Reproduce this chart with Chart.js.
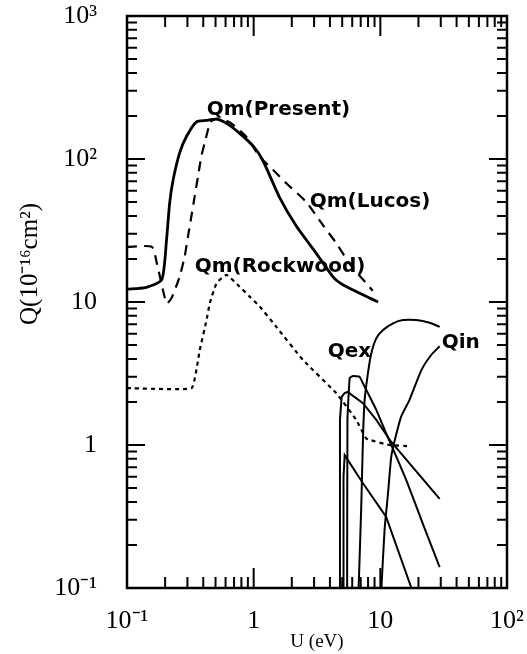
<!DOCTYPE html>
<html>
<head>
<meta charset="utf-8">
<script src="https://cdn.jsdelivr.net/npm/chart.js@4.4.1/dist/chart.umd.min.js"></script>
<style>
  html, body { margin: 0; padding: 0; background: #fff; }
  canvas { display: block; }
</style>
</head>
<body>
<canvas id="qChart" width="527" height="654"></canvas>
<script>
// axis ticks
var xTicks = [0.1, 1, 10, 100];
var xTickLabels = ['10⁻¹', '1', '10', '10²'];
var yTicks = [0.1, 1, 10, 100, 1000];
var yTickLabels = ['10⁻¹', '1', '10', '10²', '10³'];

// Qm (Present) - solid
var presentU = [0.1, 0.14, 0.188, 0.205, 0.217, 0.231, 0.26, 0.294, 0.353, 0.42, 0.508, 0.62, 0.775, 1.0, 1.18, 1.6, 2.17, 3.12, 4.23, 5.06, 6.5, 8, 9.6];
var presentQ = [12.3, 12.6, 14.3, 27, 49, 71, 110, 143, 182, 186, 190, 176, 151, 122, 98, 54, 34, 21.9, 15, 13.2, 11.8, 10.8, 10];

// Qm (Lucos) - dashed
var lucosU = [0.1, 0.157, 0.172, 0.205, 0.224, 0.26, 0.285, 0.303, 0.322, 0.342, 0.363, 0.386, 0.41, 0.436, 0.455, 0.52, 0.65, 0.875, 1.115, 1.42, 1.81, 2.6, 3.52, 4.5, 5.7, 8.7];
var lucosQ = [24.3, 24.3, 18.7, 9.8, 10.6, 15, 20.7, 28.7, 39.5, 54.5, 75, 104, 129, 160, 182, 192, 180, 143, 104, 84, 67.7, 50, 34.5, 25.7, 18.6, 12];

// Qm (Rockwood) - dotted
var rockwoodU = [0.1, 0.324, 0.375, 0.425, 0.45, 0.51, 0.61, 0.775, 0.93, 1.115, 1.51, 2.45, 4.5, 6.45, 7.76, 11.8, 17.5];
var rockwoodQ = [2.5, 2.5, 4.6, 7.5, 9.8, 13.6, 15.5, 12.8, 10.9, 9.3, 6.7, 3.93, 2.3, 1.5, 1.11, 1.0, 0.98];

// Qex curves
var qex1U = [4.77, 4.8, 4.95, 5.23, 5.52, 7.29, 9.29, 12.2, 29.4];
var qex1Q = [0.1, 1.5, 2.17, 2.31, 2.35, 1.96, 1.5, 1.05, 0.42];
var qex2U = [5.47, 5.5, 5.73, 6.08, 6.86, 7.29, 9.29, 11.1, 12.2, 16.0, 21.7, 29.4];
var qex2Q = [0.1, 1.5, 2.94, 3.04, 3.0, 2.7, 1.76, 1.21, 1.0, 0.57, 0.28, 0.14];
var qex3U = [5.09, 5.12, 5.23, 7.29, 11.1, 17.6];
var qex3Q = [0.1, 0.6, 0.85, 0.54, 0.315, 0.1];

// Qin curves
var qinU = [10.2, 10.8, 11.5, 12.2, 13.0, 14.6, 17.0, 21.1, 25.2, 29.4];
var qinQ = [0.1, 0.255, 0.46, 0.83, 1.08, 1.58, 2.07, 3.34, 4.26, 4.9];
var archU = [6.74, 7.08, 7.3, 7.52, 7.98, 8.49, 9.29, 10.5, 12.6, 15.1, 19.2, 24.5, 29.4];
var archQ = [0.1, 0.39, 1.14, 2.07, 3.17, 4.38, 5.57, 6.37, 7.1, 7.48, 7.48, 7.16, 6.7];

// curve labels (data coords of the left edge of the text)
var noteText = ['Qm(Present)', 'Qm(Lucos)', 'Qm(Rockwood)', 'Qex', 'Qin'];
var noteU = [0.426, 2.77, 0.342, 3.84, 30.5];
var noteQ = [220, 50, 17.6, 4.47, 5.16];

function pts(us, qs) {
  return us.map(function (u, i) { return { x: u, y: qs[i] }; });
}

function line(us, qs, width, dash, tension) {
  return {
    data: pts(us, qs),
    borderColor: '#000',
    borderWidth: width,
    borderDash: dash,
    pointRadius: 0,
    fill: false,
    tension: tension
  };
}

// frame, inward tick marks, y title and curve labels
var decorPlugin = {
  id: 'decor',
  afterDatasetsDraw: function (chart) {
    var ctx = chart.ctx;
    var a = chart.chartArea;
    var xs = chart.scales.x, ys = chart.scales.y;
    ctx.save();
    ctx.strokeStyle = '#000';
    ctx.lineWidth = 2.5;
    ctx.strokeRect(a.left, a.top, a.right - a.left, a.bottom - a.top);
    ctx.lineWidth = 2;
    ctx.beginPath();
    var d, m, v, p, len;
    for (d = -1; d <= 2; d++) {
      for (m = 1; m <= 9; m++) {
        v = m * Math.pow(10, d);
        if (v < 0.1 || v > 100) continue;
        p = xs.getPixelForValue(v);
        len = m === 1 ? 20 : 11;
        ctx.moveTo(p, a.bottom); ctx.lineTo(p, a.bottom - len);
        ctx.moveTo(p, a.top); ctx.lineTo(p, a.top + len);
      }
    }
    for (d = -1; d <= 3; d++) {
      for (m = 1; m <= 9; m++) {
        v = m * Math.pow(10, d);
        if (v < 0.1 || v > 1000) continue;
        p = ys.getPixelForValue(v);
        len = m === 1 ? 18 : 10;
        ctx.moveTo(a.left, p); ctx.lineTo(a.left + len, p);
        ctx.moveTo(a.right, p); ctx.lineTo(a.right - len, p);
      }
    }
    ctx.stroke();

    ctx.fillStyle = '#000';
    ctx.font = 'bold 20px "DejaVu Sans"';
    ctx.textBaseline = 'middle';
    ctx.textAlign = 'left';
    noteText.forEach(function (t, i) {
      ctx.fillText(t, xs.getPixelForValue(noteU[i]), ys.getPixelForValue(noteQ[i]));
    });

    ctx.translate(30, 264);
    ctx.rotate(-Math.PI / 2);
    ctx.font = '25px "Liberation Serif"';
    ctx.textAlign = 'center';
    ctx.fillText('Q(10⁻¹⁶cm²)', 0, 0);
    ctx.restore();
  }
};

var serif = { family: '"Liberation Serif"', size: 26 };

new Chart(document.getElementById('qChart').getContext('2d'), {
  type: 'line',
  data: {
    datasets: [
      line(presentU, presentQ, 2.8, [], 0.2),
      line(lucosU, lucosQ, 2.2, [10, 7], 0.2),
      line(rockwoodU, rockwoodQ, 2.2, [4, 4], 0.1),
      line(qex1U, qex1Q, 2, [], 0),
      line(qex2U, qex2Q, 2, [], 0.1),
      line(qex3U, qex3Q, 2, [], 0),
      line(qinU, qinQ, 2, [], 0.2),
      line(archU, archQ, 2, [], 0.3)
    ]
  },
  options: {
    responsive: false,
    animation: false,
    layout: { padding: { left: 0, right: 20, top: 16, bottom: 0 } },
    plugins: { legend: { display: false }, tooltip: { enabled: false } },
    scales: {
      x: {
        type: 'logarithmic',
        min: 0.1,
        max: 100,
        grid: { display: false, drawTicks: true, tickLength: 18 },
        border: { display: false },
        afterBuildTicks: function (scale) {
          scale.ticks = xTicks.map(function (v) { return { value: v }; });
        },
        afterFit: function (scale) {
          scale.height = 66;
          scale.paddingLeft = 0;
          scale.paddingRight = 0;
        },
        ticks: {
          autoSkip: false,
          maxRotation: 0,
          padding: 0,
          color: '#000',
          font: serif,
          callback: function (v) { return xTickLabels[xTicks.indexOf(v)]; }
        },
        title: {
          display: true,
          text: 'U (eV)',
          color: '#000',
          font: { family: '"Liberation Serif"', size: 19 },
          padding: { top: 0, bottom: 1 }
        }
      },
      y: {
        type: 'logarithmic',
        min: 0.1,
        max: 1000,
        grid: { display: false, drawTicks: true, tickLength: 28 },
        border: { display: false },
        afterBuildTicks: function (scale) {
          scale.ticks = yTicks.map(function (v) { return { value: v }; });
        },
        afterFit: function (scale) {
          scale.width = 127;
          scale.paddingTop = 0;
          scale.paddingBottom = 0;
        },
        ticks: {
          autoSkip: false,
          padding: 2,
          color: '#000',
          font: serif,
          callback: function (v) { return yTickLabels[yTicks.indexOf(v)]; }
        }
      }
    }
  },
  plugins: [decorPlugin]
});
</script>
</body>
</html>
